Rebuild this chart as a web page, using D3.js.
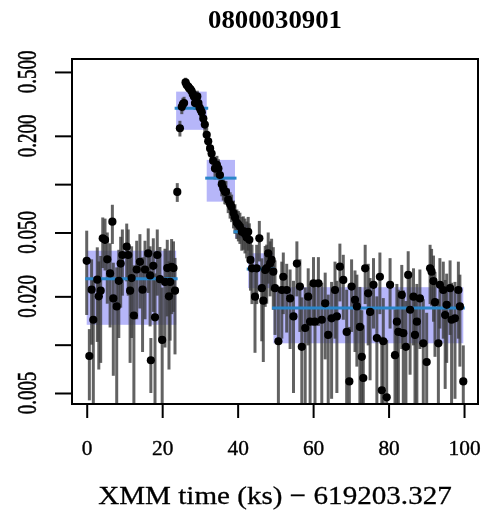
<!DOCTYPE html>
<html>
<head>
<meta charset="utf-8">
<script src="https://cdn.jsdelivr.net/npm/d3@7"></script>
<style>
body { margin: 0; background: #fff; }
svg { display: block; }
text { font-family: "Liberation Serif", "DejaVu Serif", serif; fill: #000; }
</style>
</head>
<body>
<svg id="chart" width="486" height="510"></svg>
<script>
// light curve bins: [time (ks), rate, sigma]
const quiescent = [
  [0.0,0.0333,0.018],[0.7,0.0085,0.004],[1.3,0.022,0.012],[1.75,0.0143,0.012],[2.8,0.0254,0.015],
  [3.2,0.020,0.013],[3.7,0.0217,0.014],[4.25,0.046,0.016],[4.85,0.045,0.016],[5.45,0.034,0.016],
  [6.2,0.0278,0.015],[6.8,0.0584,0.016],[7.05,0.0194,0.013],[7.95,0.0173,0.013],[8.5,0.025,0.014],
  [9.0,0.032,0.015],[9.45,0.0362,0.016],[10.6,0.0408,0.016],[11.0,0.0362,0.016],[11.5,0.0217,0.014],
  [11.9,0.026,0.015],[12.5,0.0152,0.016],[13.25,0.0294,0.015],[14.1,0.0328,0.016],[14.8,0.022,0.013],
  [15.45,0.0294,0.015],[16.3,0.037,0.016],[16.8,0.027,0.014],[17.0,0.008,0.003],[17.65,0.031,0.015],
  [18.1,0.0148,0.013],[18.7,0.0362,0.016],[19.4,0.0256,0.015],[20.0,0.0107,0.012],[20.75,0.0246,0.015],
  [21.35,0.030,0.015],[21.8,0.020,0.013],[22.1,0.0246,0.014],[22.5,0.0305,0.015],[23.0,0.030,0.014],
  [23.4,0.0217,0.013]
];
const flare = [
  [24.0,0.0895,0.012],[24.7,0.223,0.025],[25.2,0.303,0.03],[25.5,0.315,0.03],[25.8,0.32,0.03],
  [26.2,0.43,0.03],[26.5,0.414,0.03],[26.9,0.405,0.03],[27.2,0.395,0.03],[27.5,0.39,0.03],
  [27.8,0.38,0.03],[28.1,0.365,0.03],[28.4,0.352,0.03],[28.7,0.32,0.03],[29.0,0.34,0.03],
  [29.3,0.352,0.03],[29.6,0.32,0.03],[29.9,0.30,0.03],[30.2,0.29,0.028],[30.5,0.28,0.028],
  [30.9,0.256,0.025],[31.3,0.235,0.025]
];
const decay = [
  [31.8,0.203,0.022],[32.2,0.185,0.02],[32.7,0.167,0.02],[33.1,0.155,0.02],[33.5,0.14,0.018],
  [34.0,0.125,0.018],[34.5,0.132,0.018],[34.9,0.125,0.018],[35.3,0.114,0.016],[35.8,0.10,0.016],
  [36.2,0.094,0.015],[36.6,0.09,0.015],[36.9,0.0895,0.015],[37.5,0.080,0.014],[38.0,0.075,0.014],
  [38.4,0.072,0.014],[38.9,0.066,0.013],[39.3,0.062,0.013],[39.8,0.0575,0.012],[40.2,0.056,0.012],
  [40.6,0.0544,0.012],[41.1,0.0505,0.012],[41.5,0.051,0.012],[41.95,0.049,0.012],[42.4,0.0465,0.012],
  [42.8,0.0505,0.012],[43.1,0.045,0.012],[43.4,0.0337,0.012],[43.8,0.0299,0.012],[44.6,0.0199,0.011],
  [45.05,0.0299,0.012],[45.75,0.046,0.013],[46.4,0.0225,0.012],[46.8,0.0188,0.011],[47.3,0.0292,0.012],
  [47.7,0.030,0.012],[48.1,0.037,0.013],[48.6,0.032,0.012],[49.0,0.0337,0.012],[49.45,0.0285,0.012]
];
const tail = [
  [49.9,0.0225,0.011],[50.8,0.0105,0.011],[51.7,0.0219,0.011],[52.1,0.0265,0.011],[53.0,0.0219,0.010],
  [53.9,0.0194,0.010],[54.8,0.0150,0.010],[55.7,0.032,0.012],[56.5,0.0230,0.011],[57.0,0.0097,0.010],
  [57.9,0.0127,0.010],[58.7,0.0199,0.010],[59.2,0.0139,0.010],[60.1,0.0241,0.011],[60.5,0.0139,0.010],
  [61.4,0.0241,0.011],[62.3,0.0143,0.010],[63.2,0.0181,0.010],[64.0,0.0115,0.009],[64.9,0.0146,0.010],
  [65.8,0.0219,0.011],[66.3,0.0150,0.010],[67.1,0.0306,0.012],[68.0,0.0253,0.011],[68.9,0.0120,0.010],
  [69.6,0.0059,0.007],[70.2,0.0230,0.011],[71.1,0.0190,0.010],[71.6,0.0173,0.010],[72.4,0.0129,0.010],
  [72.9,0.0084,0.008],[73.3,0.0062,0.007],[73.8,0.0299,0.012],[74.6,0.0209,0.011],[75.1,0.0160,0.010],
  [76.0,0.0236,0.011],[76.9,0.0110,0.009],[77.7,0.0265,0.011],[78.2,0.0052,0.006],[78.6,0.0105,0.009],
  [79.5,0.0047,0.006],[80.4,0.0236,0.011],[81.7,0.0086,0.008],[82.2,0.0139,0.010],[82.6,0.0120,0.010],
  [83.5,0.0204,0.011],[83.9,0.0118,0.010],[84.6,0.0097,0.009],[85.2,0.0272,0.011],[85.7,0.0165,0.010],
  [86.6,0.0199,0.010],[87.0,0.0115,0.009],[87.5,0.0139,0.010],[88.3,0.0194,0.010],[89.2,0.0102,0.009],
  [90.1,0.0078,0.008],[91.0,0.0299,0.012],[91.4,0.0285,0.011],[91.9,0.0249,0.011],[92.3,0.0184,0.010],
  [93.2,0.0102,0.009],[93.6,0.0236,0.011],[94.5,0.0219,0.011],[95.0,0.0153,0.010],[95.4,0.0177,0.010],
  [96.3,0.0225,0.011],[96.7,0.0143,0.010],[97.6,0.0146,0.010],[98.5,0.0219,0.011],[98.9,0.0173,0.010],
  [99.8,0.0059,0.004]
];

// bayesian blocks
const blockStart = [0, 23.7, 31.8, 39.3, 42.8, 49.5];
const blockEnd   = [23.7, 31.8, 39.3, 42.8, 49.5, 99.8];
const blockRate  = [0.0257, 0.297, 0.109, 0.0505, 0.0296, 0.0169];
const blockLo    = [0.0133, 0.218, 0.0778, 0.046, 0.0225, 0.0102];
const blockHi    = [0.0385, 0.377, 0.1415, 0.056, 0.0371, 0.0228];

const xTicks = [0, 20, 40, 60, 80, 100];
const yTicks = [0.005, 0.01, 0.02, 0.05, 0.1, 0.2, 0.5];
const yLabels = ["0.005", "", "0.020", "0.050", "", "0.200", "0.500"];
const titleText = "0800030901";
const xTitle = "XMM time (ks) \u2212 619203.327";

var box = {left: 72, right: 478, top: 59, bottom: 404};

var svg = d3.select("#chart");

var defs = svg.append("defs");
defs.append("clipPath").attr("id", "plotclip")
  .append("rect").attr("x", box.left).attr("y", box.top)
  .attr("width", box.right - box.left).attr("height", box.bottom - box.top);
var soft = defs.append("filter").attr("id", "soft")
  .attr("filterUnits", "userSpaceOnUse")
  .attr("x", 0).attr("y", 0).attr("width", 486).attr("height", 510);
soft.append("feGaussianBlur").attr("stdDeviation", 0.6);

var root = svg.append("g").attr("filter", "url(#soft)");

var x = d3.scaleLinear().domain([-3.9, 103.7]).range([box.left, box.right]);
var y = d3.scaleLog().domain([0.00427, 0.602]).range([box.bottom, box.top]);

var points = quiescent.concat(flare, decay, tail);

var plot = root.append("g").attr("clip-path", "url(#plotclip)");

// block rectangles
var blocks = blockStart.map(function(s, i) {
  return {s: s, e: blockEnd[i], r: blockRate[i], lo: blockLo[i], hi: blockHi[i]};
});
plot.selectAll("rect.block")
  .data(blocks)
  .enter()
  .append("rect")
    .attr("class", "block")
    .attr("x", function(d) { return x(d.s); })
    .attr("width", function(d) { return x(d.e) - x(d.s); })
    .attr("y", function(d) { return y(d.hi); })
    .attr("height", function(d) { return y(d.lo) - y(d.hi); })
    .attr("fill", "#6464f2")
    .attr("fill-opacity", 0.48);

// error bars
plot.selectAll("line.err")
  .data(points)
  .enter()
  .append("line")
    .attr("class", "err")
    .attr("x1", function(d) { return x(d[0]); })
    .attr("x2", function(d) { return x(d[0]); })
    .attr("y1", function(d) { return y(d[1] + d[2]); })
    .attr("y2", function(d) { return d[1] - d[2] > 0 ? y(d[1] - d[2]) : box.bottom + 5; })
    .attr("stroke", "#3c3c3c")
    .attr("stroke-opacity", 0.8)
    .attr("stroke-width", 3);

// block levels
plot.selectAll("line.level")
  .data(blocks)
  .enter()
  .append("line")
    .attr("class", "level")
    .attr("x1", function(d) { return x(d.s); })
    .attr("x2", function(d) { return x(d.e); })
    .attr("y1", function(d) { return y(d.r); })
    .attr("y2", function(d) { return y(d.r); })
    .attr("stroke", "#2a85c8")
    .attr("stroke-width", 3)
    .attr("stroke-linecap", "square");

// points
plot.selectAll("circle.pt")
  .data(points)
  .enter()
  .append("circle")
    .attr("class", "pt")
    .attr("cx", function(d) { return x(d[0]); })
    .attr("cy", function(d) { return y(d[1]); })
    .attr("r", 4.1)
    .attr("fill", "#000");

// x axis
var xAxis = root.append("g")
  .attr("transform", "translate(0," + box.bottom + ")")
  .call(d3.axisBottom(x).tickValues(xTicks).tickSize(14).tickPadding(23).tickFormat(d3.format("d")));
xAxis.select(".domain").remove();
xAxis.selectAll(".tick line").attr("stroke", "#000").attr("stroke-width", 2);
xAxis.selectAll(".tick text")
  .attr("font-size", 20)
  .attr("font-family", "Liberation Serif")
  .attr("stroke", "#000").attr("stroke-width", 0.35)
  .attr("transform", "scale(1.07,1)");

// y axis
var yAxis = root.append("g")
  .attr("transform", "translate(" + box.left + ",0)")
  .call(d3.axisLeft(y).tickValues(yTicks).tickSize(17).tickFormat(""));
yAxis.select(".domain").remove();
yAxis.selectAll(".tick line").attr("stroke", "#000").attr("stroke-width", 2);

root.selectAll("text.ylab")
  .data(yTicks)
  .enter()
  .append("text")
    .attr("class", "ylab")
    .attr("text-anchor", "middle")
    .attr("font-size", 19)
    .attr("stroke", "#000").attr("stroke-width", 0.35)
    .attr("transform", function(d) {
      return "translate(36," + y(d) + ") rotate(-90) scale(1,1.4)";
    })
    .text(function(d, i) { return yLabels[i]; });

// box
root.append("rect")
  .attr("x", box.left).attr("y", box.top)
  .attr("width", box.right - box.left).attr("height", box.bottom - box.top)
  .attr("fill", "none").attr("stroke", "#000").attr("stroke-width", 2);

// titles
root.append("text")
  .attr("text-anchor", "middle")
  .attr("font-size", 26)
  .attr("font-weight", "bold")
  .attr("transform", "translate(" + ((box.left + box.right) / 2) + ",28) scale(1.03,1)")
  .text(titleText);

root.append("text")
  .attr("text-anchor", "middle")
  .attr("font-size", 26)
  .attr("stroke", "#000").attr("stroke-width", 0.3)
  .attr("transform", "translate(" + ((box.left + box.right) / 2) + ",504) scale(1.12,1)")
  .text(xTitle);
</script>
</body>
</html>
